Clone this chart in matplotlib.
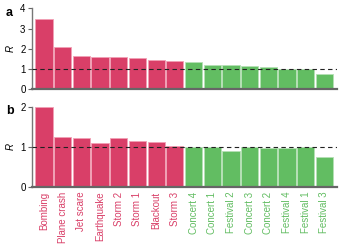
import numpy as np
import matplotlib.pyplot as plt

plt.rcParams['font.family'] = ['Liberation Sans', 'DejaVu Sans']

# Data
events = ['Bombing', 'Plane crash', 'Jet scare', 'Earthquake', 'Storm 2', 'Storm 1',
          'Blackout', 'Storm 3', 'Concert 4', 'Concert 1', 'Festival 2', 'Concert 3',
          'Concert 2', 'Festival 4', 'Festival 1', 'Festival 3']
is_negative = [True] * 8 + [False] * 8
r_a = [3.49, 2.10, 1.63, 1.60, 1.58, 1.55, 1.45, 1.38,
       1.35, 1.19, 1.19, 1.15, 1.10, 0.99, 0.99, 0.76]
r_b = [2.00, 1.24, 1.21, 1.09, 1.23, 1.15, 1.11, 1.01,
       0.99, 0.99, 0.89, 0.99, 0.96, 0.98, 0.99, 0.74]

red = '#D93F68'
green = '#62BD62'
red_edge = '#F2A0B5'
green_edge = '#B5E0B5'

colors = [red if n else green for n in is_negative]
edges = [red_edge if n else green_edge for n in is_negative]

fig = plt.figure(figsize=(3.42, 2.46), dpi=100)
ax_a = fig.add_axes([0.093, 0.637, 0.891, 0.329])
ax_b = fig.add_axes([0.093, 0.241, 0.891, 0.325])

x = np.arange(len(events))


def draw_panel(ax, vals, ymax, ticks, letter):
    ax.bar(x, vals, width=0.92, color=colors, edgecolor=edges, linewidth=0.6)
    ax.axhline(1, color='#222222', linestyle=(0, (4, 3)), linewidth=0.8, zorder=3)
    ax.set_xlim(-0.65, 15.65)
    ax.set_ylim(0, ymax)
    ax.set_yticks(ticks)
    ax.tick_params(axis='y', labelsize=7, length=3, width=0.8, color='#666666', pad=1.5)
    ax.tick_params(axis='x', length=0)
    for s in ['top', 'right']:
        ax.spines[s].set_visible(False)
    ax.spines['left'].set_color('#777777')
    ax.spines['left'].set_linewidth(1.0)
    ax.spines['bottom'].set_color('#666666')
    ax.spines['bottom'].set_linewidth(1.6)
    ax.set_ylabel('R', fontsize=7, style='italic', labelpad=3)
    ax.text(-0.085, 1.02, letter, transform=ax.transAxes, fontsize=9,
            fontweight='bold', ha='left', va='top')


draw_panel(ax_a, r_a, 4, [0, 1, 2, 3, 4], 'a')
ax_a.set_xticks([])
draw_panel(ax_b, r_b, 2, [0, 1, 2], 'b')
ax_b.set_xticks(x)
ax_b.set_xticklabels(events, rotation=90, fontsize=7)
for lbl, c in zip(ax_b.get_xticklabels(), colors):
    lbl.set_color(c)

fig.savefig('out.png', dpi=100)
